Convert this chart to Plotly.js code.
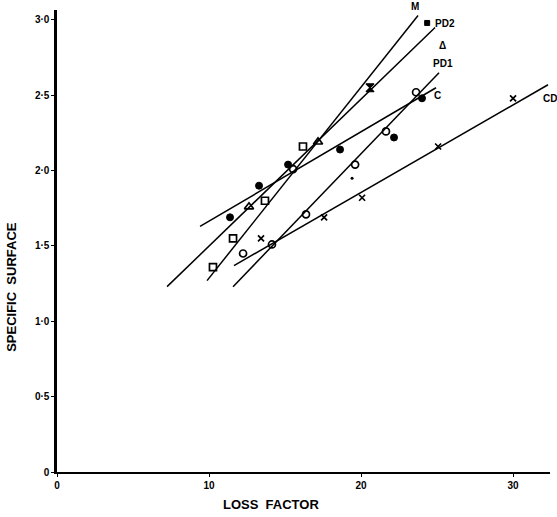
<!DOCTYPE html>
<html>
<head>
<meta charset="utf-8">
<script src="https://cdn.plot.ly/plotly-3.0.1.min.js"></script>
<style>html,body{margin:0;padding:0;background:#fff;}#chart{width:557px;height:517px;}</style>
</head>
<body>
<div id="chart"></div>
<script>
// ---- data ----
const squareX = [10.26, 11.58, 13.68, 16.18];
const squareY = [1.36, 1.55, 1.80, 2.16];
const hourglassX = [20.59];
const hourglassY = [2.55];
const triangleX = [12.63, 17.17];
const triangleY = [1.76, 2.19];
const openCircleX = [12.24, 14.14, 15.53, 16.38, 19.61, 21.64, 23.62];
const openCircleY = [1.45, 1.51, 2.01, 1.71, 2.04, 2.26, 2.52];
const filledCircleX = [11.38, 13.29, 15.20, 18.62, 22.17, 24.01];
const filledCircleY = [1.69, 1.90, 2.04, 2.14, 2.22, 2.48];
const crossX = [13.42, 17.57, 20.07, 25.07, 30.0];
const crossY = [1.55, 1.69, 1.82, 2.16, 2.48];
const dotX = [19.41];
const dotY = [1.95];

// fitted lines (end points as drawn)
const lineNames = ["M", "PD2", "PD1", "C", "CD"];
const lineX = [[9.87, 23.75], [7.24, 24.87], [11.58, 25.13], [9.41, 24.93], [11.64, 32.3]];
const lineY = [[1.27, 3.03], [1.23, 2.95], [1.23, 2.65], [1.63, 2.55], [1.37, 2.57]];

// line labels
const labelText = ["PD2", "Δ", "PD1", "C", "CD"];
const labelX = [24.75, 25.39, 25.39, 25.0, 32.4];
const labelY = [2.975, 2.83, 2.71, 2.50, 2.48];
const topLabelText = "M";
const topLabelX = 23.55;
const keySquareX = [24.35];
const keySquareY = [2.98];

const yTickVals = [0, 0.5, 1.0, 1.5, 2.0, 2.5, 3.0];
const yTickText = ["0", "0·5", "1·0", "1·5", "2·0", "2·5", "3·0"];
const xTickVals = [0, 10, 20, 30];
const xTickText = ["0", "10", "20", "30"];

// ---- traces ----
const traces = [];
for (let i = 0; i < lineNames.length; i++) {
  traces.push({x: lineX[i], y: lineY[i], mode: "lines", type: "scatter",
    line: {color: "#000", width: 1.5}, hoverinfo: "skip", showlegend: false});
}
function mk(x, y, symbol, size, lw) {
  return {x: x, y: y, mode: "markers", type: "scatter", showlegend: false, cliponaxis: false,
    marker: {symbol: symbol, size: size, color: "#000", line: {color: "#000", width: lw}}};
}
traces.push(mk(squareX, squareY, "square-open", 7, 1.7));
traces.push(mk(hourglassX, hourglassY, "hourglass", 8, 1.2));
traces.push(mk(triangleX, triangleY, "triangle-up-open", 8, 1.7));
traces.push(mk(openCircleX, openCircleY, "circle-open", 7, 1.7));
traces.push(mk(filledCircleX, filledCircleY, "circle", 7, 1));
traces.push(mk(crossX, crossY, "x-thin-open", 6, 1.7));
traces.push(mk(dotX, dotY, "circle", 3, 0));
traces.push(mk(keySquareX, keySquareY, "square", 5, 1));

const lblFont = {family: "Liberation Sans", size: 10, color: "#000", weight: "bold"};
const annotations = [];
for (let i = 0; i < labelText.length; i++) {
  annotations.push({x: labelX[i], y: labelY[i], xref: "x", yref: "y", text: labelText[i],
    showarrow: false, xanchor: i === 0 ? "left" : "center", yanchor: "middle", font: lblFont});
}
annotations.push({x: topLabelX, y: 1.0065, xref: "x", yref: "paper", text: topLabelText,
  showarrow: false, xanchor: "center", yanchor: "middle", font: lblFont});
annotations.push({xref: "paper", yref: "paper", x: -0.092, y: 0.40, text: "SPECIFIC&nbsp;&nbsp;SURFACE",
  textangle: -90, showarrow: false, xanchor: "center", yanchor: "middle",
  font: {family: "Liberation Sans", size: 13, color: "#000", weight: "bold"}});
annotations.push({xref: "paper", yref: "paper", x: 0.434, y: -0.071, text: "LOSS&nbsp;&nbsp;FACTOR",
  showarrow: false, xanchor: "center", yanchor: "middle",
  font: {family: "Liberation Sans", size: 13, color: "#000", weight: "bold"}});

const tickFont = {family: "Liberation Sans", size: 10, color: "#000", weight: "bold"};
const layout = {
  width: 557, height: 517,
  margin: {l: 57, r: 7, t: 10, b: 45},
  paper_bgcolor: "#fff", plot_bgcolor: "#fff",
  showlegend: false,
  xaxis: {range: [0, 32.43], showgrid: false, zeroline: false, showline: true,
    linecolor: "#000", linewidth: 2.2, ticks: "outside", ticklen: 3, tickwidth: 1, tickcolor: "#000",
    tickvals: xTickVals, ticktext: xTickText, tickfont: tickFont},
  yaxis: {range: [0, 3.066], showgrid: false, zeroline: false, showline: true,
    linecolor: "#000", linewidth: 2.6, ticks: "outside", ticklen: 3, tickwidth: 1, tickcolor: "#000",
    tickvals: yTickVals, ticktext: yTickText, tickfont: tickFont},
  annotations: annotations
};

Plotly.newPlot("chart", traces, layout, {staticPlot: true, displayModeBar: false});
</script>
</body>
</html>
